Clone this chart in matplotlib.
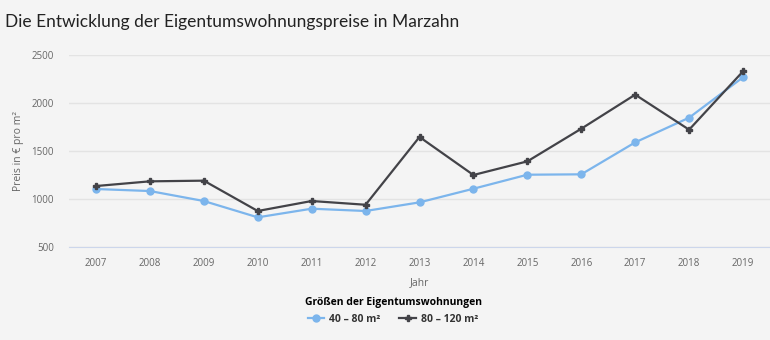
import numpy as np
import matplotlib.pyplot as plt
from matplotlib.lines import Line2D

years = ['2007', '2008', '2009', '2010', '2011', '2012', '2013',
         '2014', '2015', '2016', '2017', '2018', '2019']
small = [1104, 1083, 979, 809, 899, 875, 965, 1107, 1253, 1257, 1590, 1847, 2268]
large = [1135, 1184, 1191, 875, 979, 940, 1646, 1250, 1392, 1732, 2087, 1722, 2330]
yticks = [500, 1000, 1500, 2000, 2500]

bg = '#f4f4f4'
blue = '#7cb5ec'
dark = '#434348'

plt.rcParams['font.family'] = ['Open Sans', 'DejaVu Sans']

fig = plt.figure(figsize=(7.7, 3.4), dpi=100, facecolor=bg)
ax = fig.add_axes([69/770, 1-247/340, 1-69/770, (247-55)/340])
ax.set_facecolor(bg)

x = np.arange(len(years))
ax.plot(x, small, color=blue, lw=1.6, marker='o', ms=5, zorder=3)
ax.plot(x, large, color=dark, lw=1.6, marker='P', ms=4.5, zorder=4)

ax.set_xlim(-0.5, len(years)-0.5)
ax.set_ylim(500, 2500)
ax.set_yticks(yticks)
ax.set_xticks(x)
ax.set_xticklabels(years)
ax.tick_params(axis='both', length=0, labelsize=7, colors='#666666')
ax.tick_params(axis='y', pad=11)
ax.tick_params(axis='x', pad=8)
ax.grid(axis='y', color='#e3e3e3', lw=1)
ax.set_axisbelow(True)
for s in ['top', 'right', 'left']:
    ax.spines[s].set_visible(False)
ax.spines['bottom'].set_color('#ccd6eb')

ax.set_xlabel('Jahr', fontsize=7.5, color='#666666', labelpad=6)
ax.set_ylabel('Preis in € pro m²', fontsize=7.5, color='#666666', labelpad=5)

fig.text(5/770, 1-22/340, 'Die Entwicklung der Eigentumswohnungspreise in Marzahn',
         fontsize=12.5, color='#222222', va='center', ha='left',
         family=['Lato', 'DejaVu Sans'])

handles = [Line2D([], [], color=blue, lw=1.6, marker='o', ms=5),
           Line2D([], [], color=dark, lw=1.6, marker='P', ms=4.5)]
leg = fig.legend(handles, ['40 – 80 m²', '80 – 120 m²'], loc='center',
                 bbox_to_anchor=(393/770, 1-311/340), ncol=2, frameon=False,
                 title='Größen der Eigentumswohnungen', fontsize=7.5,
                 handlelength=1.6, columnspacing=1.8, handletextpad=0.5)
leg.get_title().set_fontweight('bold')
leg.get_title().set_fontsize(7.5)
for t in leg.get_texts():
    t.set_fontweight('bold')
    t.set_color('#333333')

fig.savefig('out.png', dpi=100, facecolor=bg)
